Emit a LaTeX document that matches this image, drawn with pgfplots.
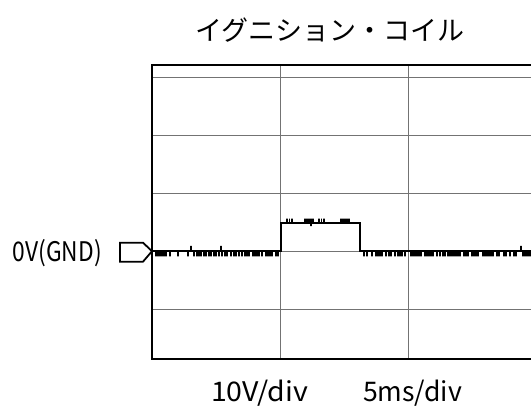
\documentclass[border=0pt]{standalone}
\usepackage{pgfplots}
\pgfplotsset{compat=1.18}
\usepackage{fontspec}
\usepackage{graphicx}
\newfontfamily\jp{Noto Sans CJK JP}
\begin{document}
\begin{tikzpicture}[x=1pt,y=1pt]
\useasboundingbox (0,0) rectangle (531,411);
\clip (0,0) rectangle (531,411);
\begin{axis}[
  at={(152pt,52pt)}, anchor=south west,
  scale only axis, width=384pt, height=294pt,
  xmin=0, xmax=15, ymin=-18.6, ymax=32.1,
  xtick={5,10}, ytick={-10,0,10,20,30},
  xticklabels={}, yticklabels={},
  major tick length=0pt,
  grid=major,
  grid style={black!55, line width=0.8pt},
  axis line style={line width=2.6pt, black},
  clip=false,
]
\addplot[black, line width=1.9pt, line join=miter] coordinates {
(0,0)
(0.156,0)(0.156,-0.9)(0.156,0)
(0.234,0)(0.234,-0.9)(0.234,0)
(0.313,0)(0.313,-0.9)(0.313,0)
(0.391,0)(0.391,-0.9)(0.391,0)
(0.469,0)(0.469,-0.9)(0.469,0)
(0.547,0)(0.547,-0.9)(0.547,0)
(0.703,0)(0.703,-0.9)(0.703,0)
(1.016,0)(1.016,-0.9)(1.016,0)
(1.406,0)(1.406,-0.9)(1.406,0)
(1.51,0)(1.51,0.9)(1.51,0)
(1.641,0)(1.641,-0.9)(1.641,0)
(1.758,0)(1.758,-0.9)(1.758,0)
(1.836,0)(1.836,-0.9)(1.836,0)
(1.914,0)(1.914,-0.9)(1.914,0)
(2.031,0)(2.031,-0.9)(2.031,0)
(2.109,0)(2.109,-0.9)(2.109,0)
(2.227,0)(2.227,-0.9)(2.227,0)
(2.305,0)(2.305,-0.9)(2.305,0)
(2.422,0)(2.422,-0.9)(2.422,0)
(2.5,0)(2.5,-0.9)(2.5,0)
(2.617,0)(2.617,-0.9)(2.617,0)
(2.684,0)(2.684,0.9)(2.684,0)
(2.734,0)(2.734,-0.9)(2.734,0)
(2.852,0)(2.852,-0.9)(2.852,0)
(2.930,0)(2.930,-0.9)(2.930,0)
(3.086,0)(3.086,-0.9)(3.086,0)
(3.203,0)(3.203,-0.9)(3.203,0)
(3.281,0)(3.281,-0.9)(3.281,0)
(3.398,0)(3.398,-0.9)(3.398,0)
(3.516,0)(3.516,-0.9)(3.516,0)
(3.633,0)(3.633,-0.9)(3.633,0)
(3.711,0)(3.711,-0.9)(3.711,0)
(3.789,0)(3.789,-0.9)(3.789,0)
(3.945,0)(3.945,-0.9)(3.945,0)
(4.023,0)(4.023,-0.9)(4.023,0)
(4.102,0)(4.102,-0.9)(4.102,0)
(4.180,0)(4.180,-0.9)(4.180,0)
(4.297,0)(4.297,-0.9)(4.297,0)
(4.453,0)(4.453,-0.9)(4.453,0)
(4.531,0)(4.531,-0.9)(4.531,0)
(4.609,0)(4.609,-0.9)(4.609,0)
(4.688,0)(4.688,-0.9)(4.688,0)
(4.844,0)(4.844,-0.9)(4.844,0)
(4.922,0)(4.922,-0.9)(4.922,0)
(5.039,0)(5.039,4.9)
(5.273,4.9)(5.273,5.6)(5.273,4.9)
(5.371,4.9)(5.371,5.6)(5.371,4.9)
(5.469,4.9)(5.469,5.6)(5.469,4.9)
(5.977,4.9)(5.977,5.6)(5.977,4.9)
(6.055,4.9)(6.055,5.6)(6.055,4.9)
(6.133,4.9)(6.133,5.6)(6.133,4.9)
(6.211,4.9)(6.211,4.3)(6.211,5.6)(6.211,4.9)
(6.289,4.9)(6.289,5.6)(6.289,4.9)
(6.523,4.9)(6.523,5.6)(6.523,4.9)
(6.621,4.9)(6.621,5.6)(6.621,4.9)
(6.719,4.9)(6.719,5.6)(6.719,4.9)
(7.383,4.9)(7.383,5.6)(7.383,4.9)
(7.461,4.9)(7.461,5.6)(7.461,4.9)
(7.539,4.9)(7.539,5.6)(7.539,4.9)
(7.617,4.9)(7.617,5.6)(7.617,4.9)
(7.695,4.9)(7.695,5.6)(7.695,4.9)
(8.125,4.9)(8.125,0)
(8.281,0)(8.281,-0.9)(8.281,0)
(8.398,0)(8.398,-0.9)(8.398,0)
(8.594,0)(8.594,-0.9)(8.594,0)
(8.75,0)(8.75,-0.9)(8.75,0)
(8.828,0)(8.828,-0.9)(8.828,0)
(8.906,0)(8.906,-0.9)(8.906,0)
(8.984,0)(8.984,-0.9)(8.984,0)
(9.141,0)(9.141,-0.9)(9.141,0)
(9.258,0)(9.258,-0.9)(9.258,0)
(9.336,0)(9.336,-0.9)(9.336,0)
(9.492,0)(9.492,-0.9)(9.492,0)
(9.609,0)(9.609,-0.9)(9.609,0)
(9.688,0)(9.688,-0.9)(9.688,0)
(9.766,0)(9.766,-0.9)(9.766,0)
(9.883,0)(9.883,-0.9)(9.883,0)
(10.117,0)(10.117,-0.9)(10.117,0)
(10.195,0)(10.195,-0.9)(10.195,0)
(10.273,0)(10.273,-0.9)(10.273,0)
(10.352,0)(10.352,-0.9)(10.352,0)
(10.43,0)(10.43,-0.9)(10.43,0)
(10.508,0)(10.508,-0.9)(10.508,0)
(10.664,0)(10.664,-0.9)(10.664,0)
(10.742,0)(10.742,-0.9)(10.742,0)
(10.82,0)(10.82,-0.9)(10.82,0)
(10.898,0)(10.898,-0.9)(10.898,0)
(10.977,0)(10.977,-0.9)(10.977,0)
(11.133,0)(11.133,-0.9)(11.133,0)
(11.25,0)(11.25,-0.9)(11.25,0)
(11.367,0)(11.367,-0.9)(11.367,0)
(11.445,0)(11.445,-0.9)(11.445,0)
(11.563,0)(11.563,-0.9)(11.563,0)
(11.641,0)(11.641,-0.9)(11.641,0)
(11.719,0)(11.719,-0.9)(11.719,0)
(11.797,0)(11.797,-0.9)(11.797,0)
(11.875,0)(11.875,-0.9)(11.875,0)
(11.953,0)(11.953,-0.9)(11.953,0)
(12.031,0)(12.031,-0.9)(12.031,0)
(12.188,0)(12.188,-0.9)(12.188,0)
(12.266,0)(12.266,-0.9)(12.266,0)
(12.344,0)(12.344,-0.9)(12.344,0)
(12.5,0)(12.5,-0.9)(12.5,0)
(12.578,0)(12.578,-0.9)(12.578,0)
(12.656,0)(12.656,-0.9)(12.656,0)
(12.734,0)(12.734,-0.9)(12.734,0)
(12.930,0)(12.930,-0.9)(12.930,0)
(13.008,0)(13.008,-0.9)(13.008,0)
(13.086,0)(13.086,-0.9)(13.086,0)
(13.164,0)(13.164,-0.9)(13.164,0)
(13.242,0)(13.242,-0.9)(13.242,0)
(13.320,0)(13.320,-0.9)(13.320,0)
(13.477,0)(13.477,-0.9)(13.477,0)
(13.555,0)(13.555,-0.9)(13.555,0)
(13.75,0)(13.75,-0.9)(13.75,0)
(13.828,0)(13.828,-0.9)(13.828,0)
(13.984,0)(13.984,-0.9)(13.984,0)
(14.141,0)(14.141,-0.9)(14.141,0)
(14.219,0)(14.219,-0.9)(14.219,0)
(14.402,0)(14.402,0.9)(14.402,0)
(14.492,0)(14.492,-0.9)(14.492,0)
(14.57,0)(14.57,-0.9)(14.57,0)
(14.648,0)(14.648,-0.9)(14.648,0)
(14.727,0)(14.727,-0.9)(14.727,0)
(14.805,0)(14.805,-0.9)(14.805,0)
(15,0)
};
\end{axis}
% ground marker
\draw[line width=1.8pt, line join=miter] (120,168.3) -- (143,168.3) -- (152,159.8) -- (143,149.3) -- (120,149.3) -- cycle;
\node[anchor=base east, inner sep=0pt] at (102,149.5) {\resizebox{89pt}{\height}{\jp\fontsize{27pt}{27pt}\selectfont 0V(GND)}};
\node[anchor=center, inner sep=0pt] at (330,381) {\jp\fontsize{27pt}{27pt}\selectfont イグニション・コイル};
\node[anchor=base, inner sep=0pt] at (259.5,9) {\resizebox{97pt}{\height}{\jp\fontsize{27pt}{27pt}\selectfont 10V/div}};
\node[anchor=base, inner sep=0pt] at (412.5,9) {\resizebox{99pt}{\height}{\jp\fontsize{27pt}{27pt}\selectfont 5ms/div}};
\end{tikzpicture}
\end{document}
